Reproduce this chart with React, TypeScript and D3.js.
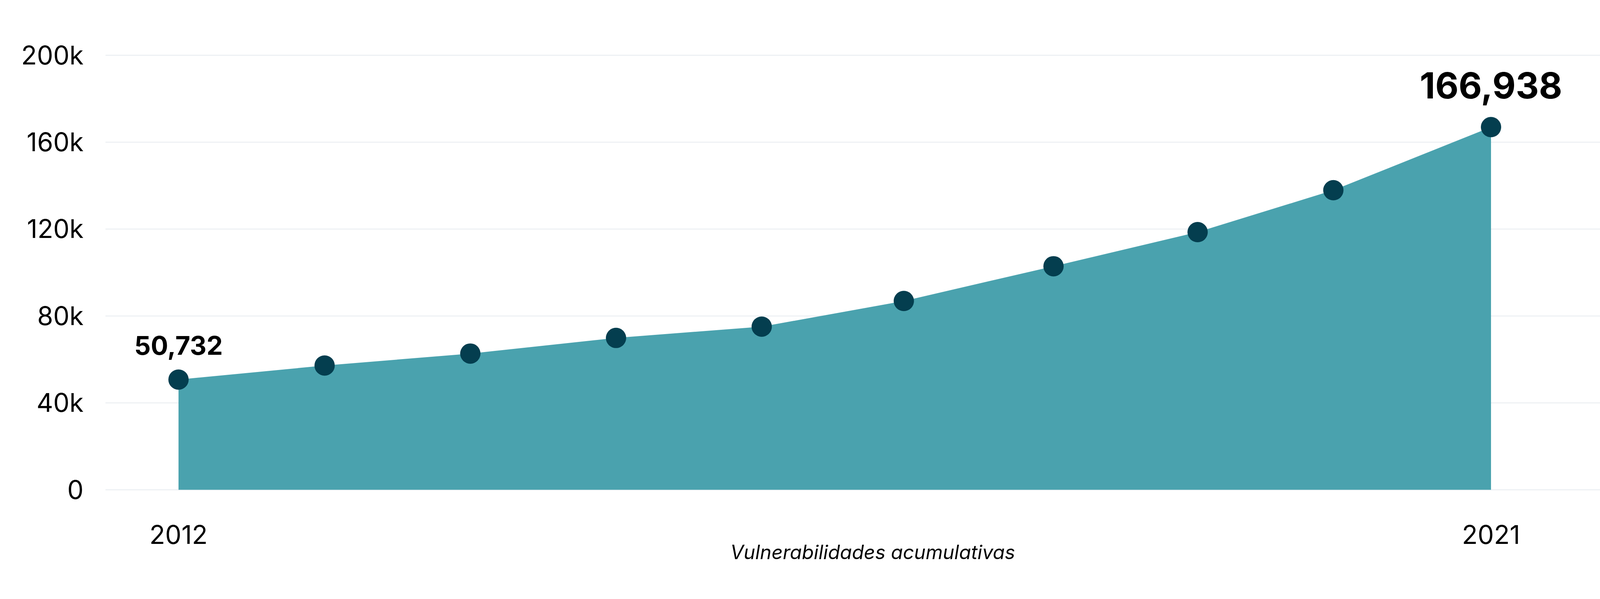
import * as d3 from 'd3';
import React, { useRef, useEffect } from 'react';

// Cumulative vulnerabilities; x positions
const dates = [
    '2012-01-01', '2013-01-01', '2014-01-01', '2015-01-01', '2016-01-01',
    '2016-12-22', '2018-01-01', '2018-12-28', '2019-12-03', '2021-01-01',
];
const cumulative = [50732, 57200, 62700, 69900, 75100, 86900, 102900, 118600, 137900, 166938];
const yTicks = [0, 40000, 80000, 120000, 160000, 200000];
const xTickLabels = ['2012', '2021'];
const axisTitle = 'Vulnerabilidades acumulativas';

const WIDTH = 4267;
const HEIGHT = 1533;

const AREA_COLOR = '#4aa2ae';
const DOT_COLOR = '#043e4f';
const GRID_COLOR = '#eef1f4';
const FONT = 'Inter, "Noto Sans", sans-serif';

const App: React.FC = () => {
    const ref = useRef<SVGSVGElement | null>(null);

    useEffect(() => {
        const svg = d3.select(ref.current);
        svg.selectAll('*').remove();

        const parse = d3.utcParse('%Y-%m-%d');
        const data = dates.map((d, i) => ({ date: parse(d) as Date, value: cumulative[i] }));

        const x = d3
            .scaleUtc()
            .domain([parse('2012-01-01') as Date, parse('2021-01-01') as Date])
            .range([457, 3817]);
        const y = d3.scaleLinear().domain([0, 200000]).range([1253.5, 141.5]);

        svg.append('rect')
            .attr('width', WIDTH)
            .attr('height', HEIGHT)
            .attr('fill', '#ffffff');

        // Gridlines + y tick labels
        const yAxis = svg.append('g');
        yAxis.selectAll('line')
            .data(yTicks)
            .join('line')
            .attr('x1', 270)
            .attr('x2', 4199)
            .attr('y1', (d) => y(d))
            .attr('y2', (d) => y(d))
            .attr('stroke', GRID_COLOR)
            .attr('stroke-width', 3);

        yAxis.selectAll('text')
            .data(yTicks)
            .join('text')
            .attr('x', 214)
            .attr('y', (d) => y(d))
            .attr('dy', '0.35em')
            .attr('text-anchor', 'end')
            .style('font-family', FONT)
            .style('font-size', '66px')
            .style('fill', '#000')
            .text((d) => (d === 0 ? '0' : `${d / 1000}k`));

        // Area
        const area = d3
            .area<{ date: Date; value: number }>()
            .x((d) => x(d.date))
            .y0(y(0))
            .y1((d) => y(d.value));

        svg.append('path')
            .datum(data)
            .attr('d', area)
            .attr('fill', AREA_COLOR);

        // Dots
        svg.append('g')
            .selectAll('circle')
            .data(data)
            .join('circle')
            .attr('cx', (d) => x(d.date))
            .attr('cy', (d) => y(d.value))
            .attr('r', 26)
            .attr('fill', DOT_COLOR);

        // Value labels on first and last point
        const first = data[0];
        const last = data[data.length - 1];
        const fmt = d3.format(',');

        svg.append('text')
            .attr('x', x(first.date))
            .attr('y', y(first.value) - 63)
            .attr('text-anchor', 'middle')
            .style('font-family', FONT)
            .style('font-weight', 700)
            .style('font-size', '66px')
            .text(fmt(first.value));

        svg.append('text')
            .attr('x', x(last.date))
            .attr('y', y(last.value) - 73)
            .attr('text-anchor', 'middle')
            .style('font-family', FONT)
            .style('font-weight', 700)
            .style('font-size', '92px')
            .text(fmt(last.value));

        // X tick labels (only ends)
        svg.append('g')
            .selectAll('text')
            .data(xTickLabels)
            .join('text')
            .attr('x', (d) => x(parse(`${d}-01-01`) as Date))
            .attr('y', 1392)
            .attr('text-anchor', 'middle')
            .style('font-family', FONT)
            .style('font-size', '66px')
            .text((d) => d);

        // Axis title
        svg.append('text')
            .attr('x', 2234)
            .attr('y', 1431)
            .attr('text-anchor', 'middle')
            .style('font-family', FONT)
            .style('font-style', 'italic')
            .style('font-size', '50px')
            .text(axisTitle);
    }, []);

    return (
        <svg
            ref={ref}
            width={WIDTH}
            height={HEIGHT}
            style={{ position: 'absolute', left: 0, top: 0, display: 'block' }}
        />
    );
};

export default App;
